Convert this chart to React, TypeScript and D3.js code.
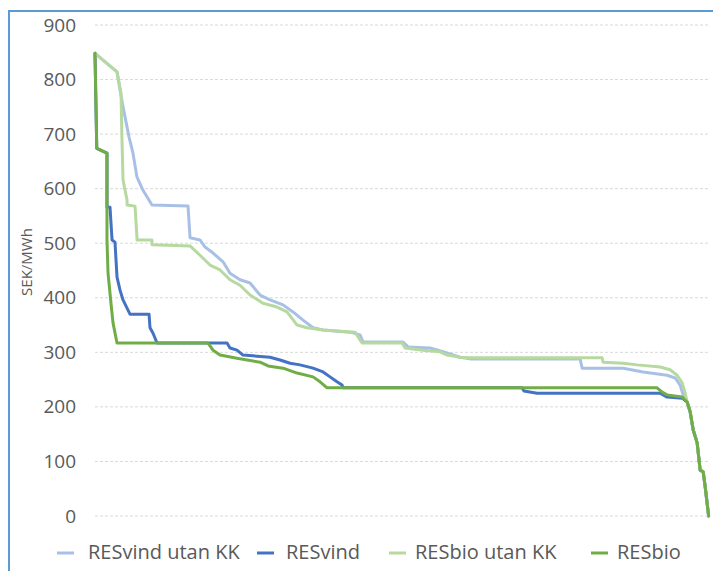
import * as d3 from "d3";
import { useEffect, useRef } from "react";

// Duration curves, hours of the year sorted by price (SEK/MWh)
const resvindUtanKKHours = [0, 314, 357, 400, 485, 542, 599, 685, 813, 1327, 1356, 1498, 1570, 1684, 1827, 1926, 2069, 2212, 2355, 2497, 2683, 2825, 2968, 3111, 3254, 3639, 3782, 3824, 4395, 4467, 4780, 4966, 5209, 5350, 6921, 6950, 7535, 7820, 8162, 8277, 8348, 8391, 8420, 8448, 8491, 8534, 8591, 8634, 8677, 8706, 8755];
const resvindUtanKKValues = [848, 814, 781, 750, 695, 665, 621, 597, 570, 568, 510, 506, 493, 482, 466, 445, 433, 427, 405, 396, 387, 374, 359, 345, 341, 337, 332, 319, 319, 310, 308, 301, 291, 288, 288, 271, 271, 264, 258, 253, 240, 222, 218, 209, 191, 158, 134, 84, 81, 53, 0];

const resvindHours = [0, 25, 171, 171, 214, 243, 285, 314, 357, 400, 457, 499, 771, 785, 828, 885, 1884, 1926, 2026, 2112, 2497, 2640, 2783, 2925, 3111, 3254, 3353, 3453, 3525, 3539, 6093, 6120, 6307, 8063, 8162, 8377, 8448, 8491, 8534, 8591, 8634, 8677, 8706, 8755];
const resvindValues = [848, 674, 665, 566, 566, 506, 502, 438, 414, 396, 381, 370, 370, 345, 335, 317, 317, 308, 304, 295, 291, 286, 280, 277, 271, 264, 255, 246, 240, 235, 235, 229, 225, 225, 218, 216, 209, 191, 158, 134, 84, 81, 53, 0];

const resbioUtanKKHours = [0, 314, 328, 371, 385, 400, 457, 457, 571, 599, 599, 813, 813, 1356, 1498, 1641, 1784, 1926, 2069, 2212, 2397, 2597, 2740, 2883, 3025, 3254, 3710, 3810, 4381, 4424, 4681, 4923, 5023, 5209, 5350, 7235, 7249, 7535, 7734, 8063, 8205, 8305, 8377, 8420, 8448, 8491, 8534, 8591, 8634, 8677, 8706, 8755];
const resbioUtanKKValues = [848, 814, 805, 775, 689, 616, 579, 570, 568, 510, 506, 506, 497, 495, 478, 460, 451, 433, 423, 405, 390, 383, 374, 350, 345, 341, 337, 317, 317, 308, 304, 301, 295, 291, 290, 290, 282, 280, 277, 273, 268, 258, 244, 225, 209, 191, 158, 134, 84, 81, 53, 0];

const resbioHours = [0, 25, 171, 171, 186, 228, 257, 314, 1613, 1684, 1784, 2026, 2355, 2469, 2683, 2883, 3111, 3211, 3311, 8020, 8091, 8162, 8377, 8448, 8491, 8534, 8591, 8634, 8677, 8706, 8755];
const resbioValues = [848, 674, 665, 506, 445, 390, 354, 317, 317, 304, 295, 289, 282, 275, 271, 262, 255, 246, 235, 235, 227, 222, 218, 209, 191, 158, 134, 84, 81, 53, 0];

const seriesNames = ["RESvind utan KK", "RESvind", "RESbio utan KK", "RESbio"];
const seriesColors = ["#a9c0e6", "#4472c4", "#b6d9a0", "#70ad47"];
const yTicks = [0, 100, 200, 300, 400, 500, 600, 700, 800, 900];

export default function App() {
    const ref = useRef(null);

    useEffect(() => {
        const width = 713;
        const height = 571;
        const margin = { top: 25, right: 4, bottom: 55, left: 95 };

        const svg = d3.select(ref.current)
            .attr('width', width)
            .attr('height', height);

        svg.selectAll('*').remove();

        const font = "'Open Sans', sans-serif";

        // background + frame
        svg.append('rect')
            .attr('width', width)
            .attr('height', height)
            .attr('fill', '#fff');
        svg.append('rect')
            .attr('x', 9)
            .attr('y', 11)
            .attr('width', 900)
            .attr('height', 900)
            .attr('fill', 'none')
            .attr('stroke', '#5b9bd5')
            .attr('stroke-width', 2);

        const x = d3.scaleLinear()
            .domain([0, 8760])
            .range([margin.left, width - margin.right]);

        const y = d3.scaleLinear()
            .domain([0, 900])
            .range([height - margin.bottom, margin.top]);

        // Gridlines
        svg.append('g')
            .selectAll('line')
            .data(yTicks)
            .join('line')
            .attr('x1', x(0))
            .attr('x2', x(8760) - 1)
            .attr('y1', d => y(d))
            .attr('y2', d => y(d))
            .attr('stroke', '#d9d9d9')
            .attr('stroke-width', 1)
            .attr('stroke-dasharray', '3,2');

        // Y tick labels
        svg.append('g')
            .selectAll('text')
            .data(yTicks)
            .join('text')
            .attr('x', 76)
            .attr('y', d => y(d) + 6.5)
            .attr('text-anchor', 'end')
            .style('font-family', font)
            .style('font-size', '19px')
            .attr('fill', '#595959')
            .text(d => d);

        // Axis title
        svg.append('text')
            .attr('transform', `translate(32,262) rotate(-90)`)
            .attr('text-anchor', 'middle')
            .style('font-family', font)
            .style('font-size', '15px')
            .attr('fill', '#595959')
            .text('SEK/MWh');

        const allHours = [resvindUtanKKHours, resvindHours, resbioUtanKKHours, resbioHours];
        const allValues = [resvindUtanKKValues, resvindValues, resbioUtanKKValues, resbioValues];

        const line = d3.line()
            .x(d => x(d[0]))
            .y(d => y(d[1]));

        // Lines, drawn in legend order so RESbio ends on top
        allHours.forEach((hours, i) => {
            const pts = hours.map((h, j) => [h, allValues[i][j]]);
            svg.append('path')
                .datum(pts)
                .attr('d', line)
                .attr('fill', 'none')
                .attr('stroke', seriesColors[i])
                .attr('stroke-width', 3)
                .attr('stroke-linejoin', 'round')
                .attr('stroke-linecap', 'round');
        });

        // Legend
        const swatchX = [57, 257, 389, 591];
        const textX = [88, 286, 415, 617];
        const legend = svg.append('g');
        seriesNames.forEach((name, i) => {
            legend.append('line')
                .attr('x1', swatchX[i])
                .attr('x2', swatchX[i] + 17)
                .attr('y1', 553)
                .attr('y2', 553)
                .attr('stroke', seriesColors[i])
                .attr('stroke-width', 3);
            legend.append('text')
                .attr('x', textX[i])
                .attr('y', 559)
                .style('font-family', font)
                .style('font-size', '20px')
                .attr('fill', '#595959')
                .text(name);
        });
    }, []);

    return (
        <svg ref={ref} style={{ position: 'absolute', left: 0, top: 0, display: 'block' }}></svg>
    );
}
